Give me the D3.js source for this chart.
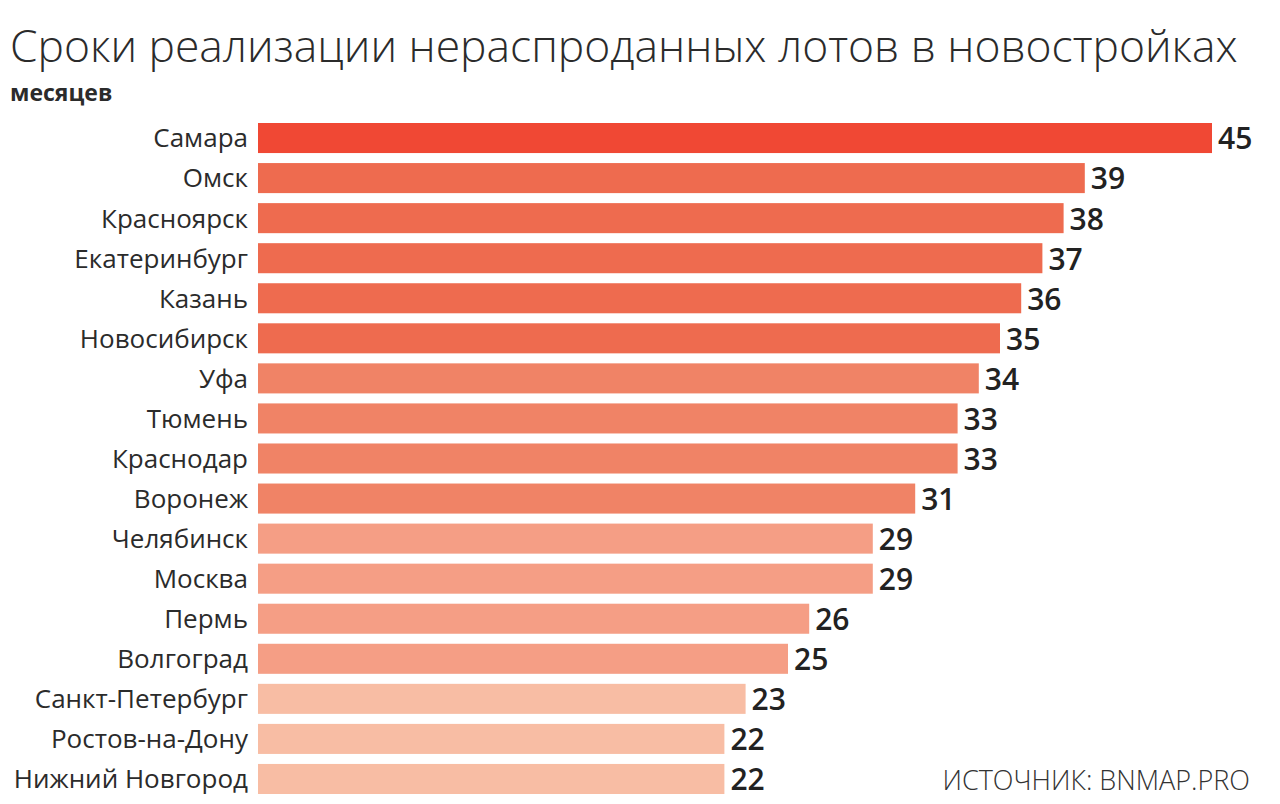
<!DOCTYPE html>
<html><head><meta charset="utf-8">
<script src="https://cdn.jsdelivr.net/npm/d3@7"></script>
<style>html,body{margin:0;padding:0;background:#fff;}svg{display:block;}</style>
</head><body>
<svg id="c" width="1280" height="804"></svg>
<script>
const cities = ["Самара","Омск","Красноярск","Екатеринбург","Казань","Новосибирск","Уфа","Тюмень","Краснодар","Воронеж","Челябинск","Москва","Пермь","Волгоград","Санкт-Петербург","Ростов-на-Дону","Нижний Новгород"];
const months = [45,39,38,37,36,35,34,33,33,31,29,29,26,25,23,22,22];
const tiers = [0,1,1,1,1,1,2,2,2,2,3,3,3,3,4,4,4];
const tierColors = ["#f04834","#ee6b4f","#f08366","#f59e85","#f8bda4"];
const titleText = "Сроки реализации нераспроданных лотов в новостройках";
const unitText = "месяцев";
const sourceText = "ИСТОЧНИК: BNMAP.PRO";

const svg = d3.select("#c");
const x = d3.scaleLinear().domain([0,45]).range([258,1212]);
const y = d3.scaleBand().domain(cities).range([118,799]).paddingInner(0.25).paddingOuter(0.125);

const title = svg.append("text").attr("x",10).attr("y",62)
  .attr("font-family","Open Sans").attr("font-weight",300).attr("font-size",50)
  .attr("fill","#2b2b2b").text(titleText);
const tw = title.node().getComputedTextLength();
title.attr("font-size", 50*1228/tw);

svg.append("text").attr("x",10).attr("y",101).attr("font-family","Open Sans")
  .attr("font-weight",700).attr("font-size",23).attr("fill","#2b2b2b").text(unitText);

const data = cities.map((c,i)=>({c, v:months[i], t:tiers[i]}));
svg.selectAll("rect.bar").data(data).join("rect").attr("class","bar")
  .attr("x",x(0)).attr("y",d=>y(d.c)).attr("width",d=>x(d.v)-x(0)).attr("height",y.bandwidth())
  .attr("fill",d=>tierColors[d.t]);

svg.selectAll("text.lab").data(data).join("text").attr("class","lab")
  .attr("x",248).attr("y",d=>y(d.c)+y.bandwidth()/2).attr("dy","0.36em")
  .attr("text-anchor","end").attr("font-family","Open Sans").attr("font-size",26)
  .attr("fill","#2b2b2b").text(d=>d.c);

svg.selectAll("text.val").data(data).join("text").attr("class","val")
  .attr("x",d=>x(d.v)+6).attr("y",d=>y(d.c)+y.bandwidth()/2).attr("dy","0.38em")
  .attr("font-family","Open Sans").attr("font-weight",600).attr("font-size",30)
  .attr("fill","#222").text(d=>d.v);

svg.append("text").attr("x",1250).attr("y",790).attr("text-anchor","end")
  .attr("font-family","Open Sans").attr("font-weight",300).attr("font-size",27)
  .attr("fill","#333").text(sourceText);
</script>
</body></html>
